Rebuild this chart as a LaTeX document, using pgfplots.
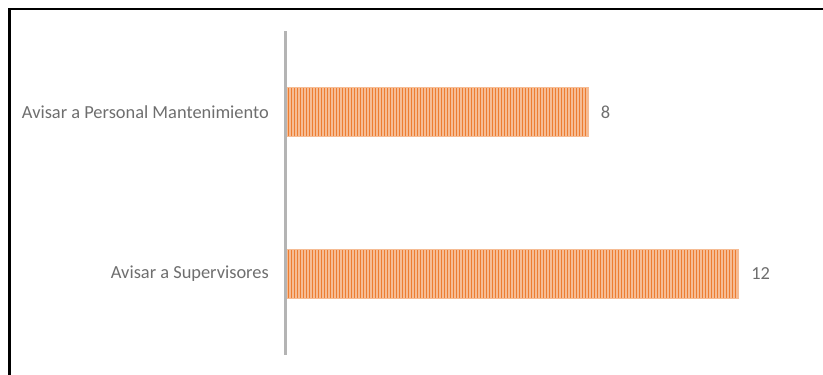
\documentclass[border=0pt]{standalone}
\usepackage{pgfplots}
\pgfplotsset{compat=1.18}
\usetikzlibrary{patterns}
\usepackage{fontspec}
\setmainfont{Carlito}
\definecolor{orfill}{HTML}{F6BC94}
\definecolor{orline}{HTML}{ED7D31}
\definecolor{txt}{HTML}{6E6E6E}
\definecolor{axgray}{HTML}{B4B4B4}
\begin{document}
\begin{tikzpicture}
\useasboundingbox (0,0) rectangle (823pt,375pt);
\draw[line width=2.5pt] (9.5pt,-20pt) -- (9.5pt,366pt) -- (850pt,366pt);
\begin{axis}[
  at={(287pt,20pt)}, anchor=south west,
  scale only axis, width=526.4pt, height=324pt,
  xbar, bar width=49pt,
  xmin=0, xmax=14, ymin=-0.5, ymax=1.5,
  axis x line=none,
  axis y line=left,
  y axis line style={draw=none},
  ytick={0,1},
  yticklabels={Avisar a Supervisores, Avisar a Personal Mantenimiento},
  major tick length=0pt,
  yticklabel style={font=\fontsize{18.4}{20}\selectfont, text=txt, inner sep=0pt, xshift=-18pt},
  nodes near coords,
  nodes near coords style={font=\fontsize{18.4}{20}\selectfont, text=txt, anchor=west, inner sep=0pt, xshift=13pt},
  /pgf/number format/assume math mode=true,
  clip=false,
]
\addplot[draw=orfill, fill=orfill, postaction={pattern=vertical lines, pattern color=orline}]
  coordinates {(12,0) (8,1)};
\draw[axgray, line width=3pt, xshift=-1.5pt] (axis cs:0,-0.5) -- (axis cs:0,1.5);
\end{axis}
\end{tikzpicture}
\end{document}
